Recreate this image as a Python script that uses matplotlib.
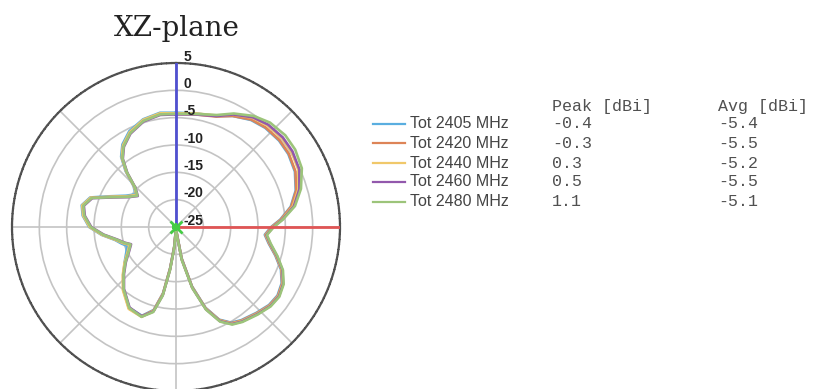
import numpy as np
import matplotlib
matplotlib.use('Agg')
import matplotlib.pyplot as plt
from matplotlib.lines import Line2D

##角度（度，0在上方，顺时针）
angles = [0, 10, 20, 27, 35, 42, 50, 57, 65, 73,
          80, 86, 90, 95, 100, 106, 112, 118, 124, 130,
          137, 145, 150, 155, 160, 165, 170, 175, 178, 182,
          185, 188, 191, 195, 201, 210, 220, 228, 235, 243,
          249, 253, 258, 264, 270, 277, 283, 289, 295, 302,
          309, 314, 318, 322, 327, 334, 343, 352, 360]

##各频点的增益 (dBi)
tot_2405 = [-4.1, -3.9, -3.4, -2.2, -1.1, -0.6, -0.4, -0.5, -1.0, -2.1,
            -3.7, -5.9, -7.6, -8.7, -7.8, -6.1, -4.3, -3.1, -2.6, -2.8,
            -3.5, -4.2, -4.8, -6.3, -9.3, -13.8, -19.3, -24.3, -25.0, -24.7,
            -21.5, -17.5, -12.7, -9.3, -7.6, -7.9, -10.1, -12.1, -13.5, -14.8,
            -15.4, -14.6, -13.6, -11.3, -9.1, -7.8, -7.3, -8.4, -11.7, -14.2,
            -15.5, -14.2, -11.2, -8.7, -7.0, -5.5, -4.4, -3.9, -4.1]
tot_2420 = [-4.3, -4.1, -3.5, -2.2, -1.0, -0.5, -0.3, -0.4, -0.9, -2.0,
            -3.6, -5.8, -7.5, -8.6, -7.7, -6.0, -4.2, -3.0, -2.5, -2.7,
            -3.4, -4.1, -4.7, -6.2, -9.2, -13.7, -19.2, -24.2, -25.0, -24.6,
            -21.4, -17.4, -12.6, -9.2, -7.5, -7.8, -10.0, -12.0, -13.6, -15.2,
            -16.0, -15.0, -13.8, -11.5, -9.3, -8.0, -7.5, -8.6, -12.0, -14.5,
            -15.8, -14.5, -11.5, -9.0, -7.3, -5.8, -4.6, -4.1, -4.3]
tot_2440 = [-4.2, -3.9, -3.3, -1.9, -0.6, 0.0, 0.3, 0.2, -0.3, -1.6,
            -3.3, -5.6, -7.3, -8.5, -7.6, -5.9, -4.1, -2.9, -2.4, -2.6,
            -3.3, -4.0, -4.6, -6.1, -9.1, -13.6, -19.1, -24.1, -24.9, -24.5,
            -21.3, -17.3, -12.5, -9.1, -7.4, -7.7, -9.9, -11.9, -13.5, -15.1,
            -15.9, -14.9, -13.7, -11.4, -9.2, -7.9, -7.4, -8.5, -11.9, -14.4,
            -15.7, -14.4, -11.4, -8.9, -7.2, -5.7, -4.5, -4.0, -4.2]
tot_2460 = [-4.4, -4.1, -3.4, -1.9, -0.5, 0.2, 0.5, 0.4, -0.1, -1.4,
            -3.1, -5.5, -7.2, -8.4, -7.5, -5.8, -4.0, -2.8, -2.3, -2.5,
            -3.2, -3.9, -4.5, -6.0, -9.0, -13.5, -19.0, -24.0, -24.8, -24.4,
            -21.2, -17.1, -12.3, -9.0, -7.5, -8.0, -10.2, -12.2, -13.8, -15.4,
            -16.2, -15.2, -14.0, -11.7, -9.5, -8.2, -7.7, -8.8, -12.2, -14.7,
            -16.0, -14.7, -11.7, -9.2, -7.5, -6.0, -4.8, -4.3, -4.4]
tot_2480 = [-4.3, -4.0, -3.2, -1.7, -0.2, 0.7, 1.1, 1.0, 0.4, -1.1,
            -2.9, -5.4, -7.1, -8.3, -7.4, -5.7, -3.9, -2.7, -2.2, -2.4,
            -3.1, -3.8, -4.4, -5.9, -8.9, -13.4, -18.8, -23.8, -24.6, -24.2,
            -21.0, -17.0, -12.2, -8.9, -7.4, -7.9, -10.1, -12.1, -13.7, -15.3,
            -16.1, -15.1, -13.9, -11.6, -9.4, -8.1, -7.6, -8.7, -12.1, -14.6,
            -15.9, -14.6, -11.6, -9.1, -7.4, -5.9, -4.7, -4.2, -4.3]

series = [tot_2405, tot_2420, tot_2440, tot_2460, tot_2480]
labels = ['Tot 2405 MHz', 'Tot 2420 MHz', 'Tot 2440 MHz', 'Tot 2460 MHz', 'Tot 2480 MHz']
peak = ['-0.4', '-0.3', '0.3', '0.5', '1.1']
avg = ['-5.4', '-5.5', '-5.2', '-5.5', '-5.1']
rings = [-25, -20, -15, -10, -5, 0, 5]

colors = ['#5aaee0', '#dd8457', '#f0c86a', '#9258ac', '#9cc47a']

W, H = 815, 389
fig = plt.figure(figsize=(W / 100, H / 100), dpi=100)

##极坐标轴，圆心约在(176,227)，半径164像素
cx, cy, R = 176, 227, 164
ax = fig.add_axes([(cx - R) / W, (H - cy - R) / H, 2 * R / W, 2 * R / H], projection='polar')
ax.set_theta_zero_location('N')
ax.set_theta_direction(-1)
ax.set_ylim(rings[0], rings[-1])
ax.set_yticks(rings[1:-1])
ax.set_yticklabels([])
ax.set_xticks(np.radians(np.arange(0, 360, 45)))
ax.set_xticklabels([])
ax.grid(True, color='#c4c4c4', linewidth=1.2)
ax.spines['polar'].set_color('#505050')
ax.spines['polar'].set_linewidth(1.6)
ax.spines['polar'].set_linestyle((0, (1.5, 0.8)))
ax.patch.set_alpha(0)

##画方向图
th = np.radians(angles)
for vals, c in zip(series, colors):
    ax.plot(th, vals, color=c, linewidth=1.9, zorder=3)

##坐标轴线
ax.plot([0, 0], [rings[0], rings[-1]], color='#5050d0', linewidth=2, zorder=4)
ax.plot([np.pi / 2, np.pi / 2], [rings[0], rings[-1]], color='#e05555', linewidth=2, zorder=4)
ax.plot([0], [rings[0]], marker='x', color='#44cc44', markersize=8, mew=2, zorder=5)
ax.plot([0], [rings[0]], marker='+', color='#44cc44', markersize=6, mew=1.5, zorder=5)

##刻度文字
for v in rings:
    ax.annotate(str(v), xy=(0, v), xytext=(5.5, 4.5), textcoords='offset points',
                ha='left', va='center', fontsize=10, fontweight='bold',
                family='Liberation Sans', color='#222222', zorder=6, annotation_clip=False)

##标题
fig.text(177 / W, 1 - 28 / H, 'XZ-plane', ha='center', va='center',
         family='DejaVu Serif', fontsize=20, color='#222222')

##图例和表格
rows = [124, 143, 163, 182, 202]
for y, lab, c, p, a in zip(rows, labels, colors, peak, avg):
    fy = 1 - y / H
    fig.add_artist(Line2D([373 / W, 405 / W], [fy, fy], color=c, linewidth=1.6))
    fig.text(410 / W, fy, lab, ha='left', va='center', family='Liberation Sans',
             fontsize=11.5, color='#444444')
    fig.text(552 / W, fy, p, ha='left', va='center', family='Liberation Mono',
             fontsize=12, color='#505050')
    fig.text(718 / W, fy, a, ha='left', va='center', family='Liberation Mono',
             fontsize=12, color='#505050')
fig.text(552 / W, 1 - 106 / H, 'Peak [dBi]', ha='left', va='center',
         family='Liberation Mono', fontsize=12, color='#505050')
fig.text(718 / W, 1 - 106 / H, 'Avg [dBi]', ha='left', va='center',
         family='Liberation Mono', fontsize=12, color='#505050')

plt.savefig('out.png', dpi=100)
